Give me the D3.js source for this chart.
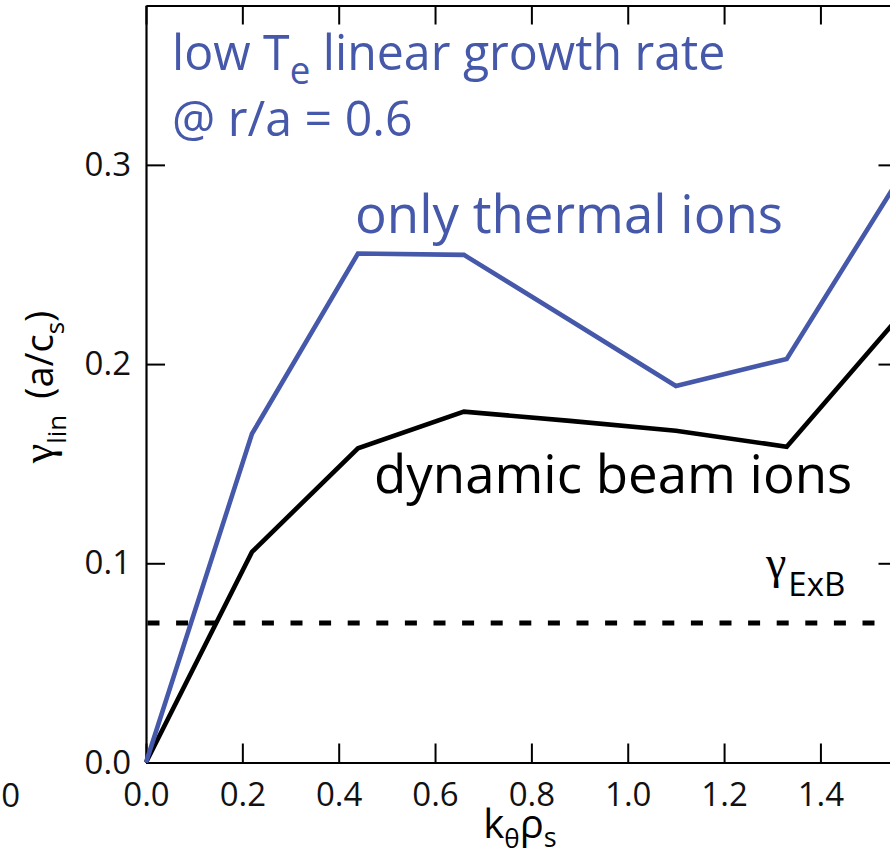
<!DOCTYPE html>
<html>
<head>
<meta charset="utf-8">
<script src="https://cdn.jsdelivr.net/npm/d3@7/dist/d3.min.js"></script>
<style>
  html, body { margin: 0; padding: 0; background: #fff; overflow: hidden; }
  svg { display: block; }
  text { font-family: "Open Sans", "DejaVu Sans", sans-serif; }
  tspan.greek { font-family: "Liberation Serif", "DejaVu Serif", serif; }
</style>
</head>
<body>
<svg id="chart" width="890" height="857"></svg>
<script>
// Linear growth rate vs. binormal wavenumber
const kTheta      = [0, 0.22, 0.44, 0.66, 0.88, 1.10, 1.33, 1.55];
const gammaThermal = [0, 0.165, 0.2555, 0.2548, 0.222, 0.189, 0.2026, 0.288];
const gammaBeam    = [0, 0.1057, 0.1577, 0.1761, 0.1715, 0.1665, 0.1585, 0.220];
const gammaExB = 0.07;

const xTicks = [0, 0.2, 0.4, 0.6, 0.8, 1.0, 1.2, 1.4];
const yTicks = [0, 0.1, 0.2, 0.3];
const xDomain = [0, 1.56];
const yDomain = [0, 0.38];

const blue = "#4558a9";

const svg = d3.select("#chart");
const plotL = 146, plotR = 897.5, plotT = 5.5, plotB = 762.5;

const x = d3.scaleLinear().domain(xDomain).range([plotL, plotR]);
const y = d3.scaleLinear().domain(yDomain).range([plotB, plotT]);

const fmt = d3.format(".1f");
const tickLen = 19;

function styleAxis(g, fontSize) {
  g.select(".domain").attr("stroke", "#000").attr("stroke-width", 2.2);
  g.selectAll(".tick line").attr("stroke", "#000").attr("stroke-width", 2);
  g.selectAll(".tick text")
    .attr("fill", "#111")
    .style("font-family", "'Open Sans', 'DejaVu Sans', sans-serif")
    .style("font-size", fontSize + "px");
}

// Bottom axis with labels
svg.append("g")
  .attr("transform", `translate(0,${plotB})`)
  .call(d3.axisBottom(x).tickValues(xTicks).tickFormat(fmt)
    .tickSizeInner(-tickLen).tickSizeOuter(0).tickPadding(20))
  .call(g => styleAxis(g, 33));

// Top mirror axis
svg.append("g")
  .attr("transform", `translate(0,${plotT})`)
  .call(d3.axisTop(x).tickValues(xTicks).tickFormat("")
    .tickSizeInner(-tickLen).tickSizeOuter(0))
  .call(g => styleAxis(g, 33));

// Left axis with labels
svg.append("g")
  .attr("transform", `translate(${plotL},0)`)
  .call(d3.axisLeft(y).tickValues(yTicks).tickFormat(fmt)
    .tickSizeInner(-tickLen).tickSizeOuter(0).tickPadding(15))
  .call(g => styleAxis(g, 33));

// Right mirror axis
svg.append("g")
  .attr("transform", `translate(${plotR},0)`)
  .call(d3.axisRight(y).tickValues(yTicks).tickFormat("")
    .tickSizeInner(-tickLen).tickSizeOuter(0))
  .call(g => styleAxis(g, 33));

// Neighbouring panel's axis label, cut at the edge
svg.append("text")
  .attr("x", 20).attr("y", plotB + 44.5)
  .attr("text-anchor", "end")
  .attr("fill", "#111")
  .style("font-size", "33px")
  .text("0");

// ExB shearing rate
svg.append("line")
  .attr("x1", x(0)).attr("x2", plotR)
  .attr("y1", y(gammaExB)).attr("y2", y(gammaExB))
  .attr("stroke", "#000").attr("stroke-width", 5)
  .attr("stroke-dasharray", "12 16.6")
  .attr("stroke-dashoffset", -1.5);

const line = d3.line().x(d => x(d[0])).y(d => y(d[1]));

svg.append("path")
  .datum(kTheta.map((k, i) => [k, gammaBeam[i]]))
  .attr("d", line)
  .attr("fill", "none").attr("stroke", "#000")
  .attr("stroke-width", 4.6).attr("stroke-linejoin", "miter");

svg.append("path")
  .datum(kTheta.map((k, i) => [k, gammaThermal[i]]))
  .attr("d", line)
  .attr("fill", "none").attr("stroke", blue)
  .attr("stroke-width", 4.6).attr("stroke-linejoin", "miter");

// Title block (slightly condensed)
const title = svg.append("g").attr("transform", "translate(172,0) scale(0.965,1)");
const t1 = title.append("text").attr("x", 0).attr("y", 70)
  .attr("fill", blue).style("font-size", "50px");
t1.append("tspan").text("low T");
t1.append("tspan").attr("dy", 14).style("font-size", "38px").text("e");
t1.append("tspan").attr("dy", -14).attr("dx", 13).text("linear growth rate");

title.append("text").attr("x", 0).attr("y", 136)
  .attr("fill", blue).style("font-size", "50px")
  .text("@ r/a = 0.6");

// Series labels
svg.append("text").attr("x", 355).attr("y", 233)
  .attr("fill", blue).style("font-size", "52.8px")
  .text("only thermal ions");

svg.append("text").attr("x", 374).attr("y", 493)
  .attr("fill", "#000").style("font-size", "52.8px")
  .text("dynamic beam ions");

const gx = svg.append("text").attr("x", 766).attr("y", 578)
  .attr("fill", "#000").style("font-size", "33px");
gx.append("tspan").attr("class", "greek").style("font-size", "46px").text("γ");
gx.append("tspan").attr("dx", 2).attr("dy", 18).text("ExB");

// Axis titles
const yt = svg.append("text")
  .attr("transform", "translate(53,387) rotate(-90)")
  .attr("text-anchor", "middle")
  .attr("fill", "#000").style("font-size", "38px");
yt.append("tspan").attr("class", "greek").style("font-size", "44px").text("γ");
yt.append("tspan").attr("dy", 13).style("font-size", "26px").text("lin");
yt.append("tspan").attr("dy", -13).attr("dx", 16).text("(a/c");
yt.append("tspan").attr("dy", 11).style("font-size", "26px").text("s");
yt.append("tspan").attr("dy", -11).text(")");

const xt = svg.append("text")
  .attr("x", 520).attr("y", 838)
  .attr("text-anchor", "middle")
  .attr("fill", "#000").style("font-size", "40px");
xt.append("tspan").text("k");
xt.append("tspan").attr("dy", 10).style("font-size", "26px").text("θ");
xt.append("tspan").attr("dy", -10).text("ρ");
xt.append("tspan").attr("dy", 9).style("font-size", "27px").text("s");
</script>
</body>
</html>
